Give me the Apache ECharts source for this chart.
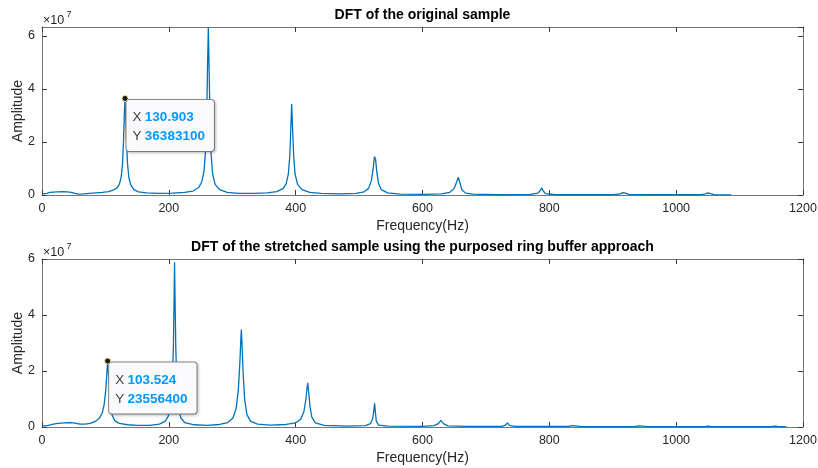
<!DOCTYPE html>
<html><head><meta charset="utf-8">
<script src="https://cdn.jsdelivr.net/npm/echarts@6/dist/echarts.min.js"></script>
<style>html,body{margin:0;padding:0;background:#fff}#c{width:818px;height:468px}</style>
</head><body><div id="c"></div>
<script>
// amplitudes in units of 1e7 (axis shows x10^7)
const SCALE = 1e7;
const xTickValues = [0, 200, 400, 600, 800, 1000, 1200];
const yTickValues = [0, 2, 4, 6];
const titleTop = 'DFT of the original sample';
const titleBottom = 'DFT of the stretched sample using the purposed ring buffer approach';
const xName = 'Frequency(Hz)';
const yName = 'Amplitude';

const originalSpectrum = [
[0,0.04],[3,0.03],[8,0.06],[12,0.1],[18,0.11],[25,0.12],[32,0.13],[40,0.12],[46,0.1],[52,0.06],[58,0.03],[65,0.04],[75,0.06],[85,0.08],[95,0.1],[105,0.13],[112,0.18],[118,0.26],[122,0.4],[125,0.7],[127,1.2],[128.5,2.0],[129.8,3.0],[130.903,3.63831],[132,3.0],[133.3,2.0],[134.8,1.2],[137,0.65],[140,0.38],[145,0.2],[152,0.12],[165,0.08],[185,0.06],[205,0.07],[225,0.1],[238,0.15],[247,0.28],[252,0.5],[255.5,0.9],[258,1.7],[259.8,3.0],[261,4.8],[262.3,6.33],[263.5,4.8],[264.8,3.0],[266.5,1.6],[269,0.8],[273,0.4],[280,0.2],[292,0.1],[310,0.06],[335,0.06],[355,0.08],[370,0.13],[380,0.24],[385,0.42],[388.5,0.8],[390.8,1.5],[392.5,2.6],[393.7,3.43],[395,2.6],[396.8,1.5],[399,0.8],[403,0.4],[410,0.2],[422,0.1],[440,0.06],[470,0.04],[495,0.06],[508,0.12],[515,0.25],[519.5,0.55],[522.5,1.05],[524.2,1.45],[525,1.5],[526,1.35],[527.8,0.9],[530.5,0.45],[535,0.2],[545,0.08],[565,0.03],[600,0.02],[630,0.04],[643,0.1],[650,0.25],[654,0.5],[656.5,0.67],[658.5,0.5],[662,0.2],[668,0.07],[680,0.03],[720,0.01],[770,0.02],[782,0.07],[786,0.18],[788,0.27],[790,0.16],[794,0.05],[810,0.01],[900,0.01],[912,0.04],[916,0.09],[918,0.12],[920,0.07],[925,0.02],[950,0.01],[1040,0.01],[1046,0.04],[1050,0.08],[1053,0.04],[1060,0.01],[1087,0.005]
];

const stretchedSpectrum = [
[0,0.05],[5,0.04],[10,0.06],[18,0.1],[25,0.13],[35,0.15],[45,0.16],[52,0.14],[60,0.1],[68,0.1],[76,0.13],[84,0.2],[90,0.3],[95,0.5],[98,0.8],[100.5,1.3],[102.2,1.9],[103.524,2.35564],[104.8,1.9],[106.5,1.2],[108.5,0.7],[111,0.4],[115,0.22],[122,0.13],[135,0.08],[150,0.06],[170,0.06],[185,0.1],[194,0.2],[199,0.38],[203,0.8],[205.5,1.6],[207.3,3.0],[208.3,4.6],[209,5.88],[209.8,4.6],[211,2.8],[212.8,1.4],[215.5,0.65],[219,0.32],[225,0.16],[240,0.08],[260,0.06],[280,0.09],[293,0.16],[301,0.32],[306,0.65],[309.5,1.3],[312,2.3],[313.5,3.1],[314.3,3.48],[315.3,3.0],[317,2.0],[319.5,1.0],[323,0.45],[329,0.2],[340,0.1],[360,0.07],[385,0.09],[400,0.15],[408,0.28],[413,0.55],[416.2,1.0],[418,1.4],[419,1.58],[420.3,1.3],[422.5,0.75],[425.5,0.35],[431,0.15],[445,0.06],[480,0.03],[510,0.05],[518,0.12],[521.5,0.3],[523.3,0.6],[524.5,0.85],[525.6,0.55],[527.2,0.2],[531,0.07],[545,0.03],[600,0.02],[618,0.05],[625,0.12],[629,0.24],[633,0.12],[640,0.04],[670,0.02],[725,0.02],[731,0.07],[734,0.15],[737,0.06],[745,0.02],[830,0.02],[836,0.05],[839,0.1],[842,0.04],[850,0.01],[935,0.01],[941,0.04],[944,0.07],[947,0.03],[955,0.01],[1045,0.01],[1050,0.03],[1052,0.05],[1055,0.02],[1065,0.01],[1150,0.01],[1155,0.03],[1157,0.05],[1160,0.02],[1174,0.005]
];

const tipTop = { x: 130.903, y: 36383100 };
const tipBottom = { x: 103.524, y: 23556400 };
const yMaxTop = 6.33;
const yMaxBottom = 6;

const FONT = "'Liberation Sans', Arial, Helvetica, sans-serif";
const AXLINE = '#767676';
const AXTICK = '#3a3a3a';
const TXT = '#262626';
const LINE = '#0072BD';

function plainNum(v) { return String(v); }

function xAxes(grid) {
  return [
    { gridIndex: grid, type: 'value', position: 'bottom', min: xTickValues[0], max: xTickValues[xTickValues.length-1], interval: xTickValues[1]-xTickValues[0],
      axisLine: { show: true, onZero: false, lineStyle: { color: AXLINE, width: 1 } },
      axisTick: { show: true, inside: true, length: 5, lineStyle: { color: AXTICK } },
      axisLabel: { show: true, color: TXT, fontSize: 12.5, fontFamily: FONT, margin: 7, formatter: plainNum, hideOverlap: false },
      splitLine: { show: false },
      name: xName, nameLocation: 'middle', nameGap: 24, nameMoveOverlap: false,
      nameTextStyle: { color: TXT, fontSize: 14, fontFamily: FONT } },
    { gridIndex: grid, type: 'value', position: 'top', min: xTickValues[0], max: xTickValues[xTickValues.length-1], interval: xTickValues[1]-xTickValues[0],
      axisLine: { show: true, onZero: false, lineStyle: { color: AXLINE, width: 1 } },
      axisTick: { show: true, inside: true, length: 5, lineStyle: { color: AXTICK } },
      axisLabel: { show: false }, splitLine: { show: false } }
  ];
}
function yAxes(grid, ymax, showMax) {
  return [
    { gridIndex: grid, type: 'value', position: 'left', min: yTickValues[0], max: ymax, interval: yTickValues[1]-yTickValues[0],
      axisLine: { show: true, onZero: false, lineStyle: { color: AXLINE, width: 1 } },
      axisTick: { show: true, inside: true, length: 5, lineStyle: { color: AXTICK } },
      axisLabel: { show: true, color: TXT, fontSize: 12.5, fontFamily: FONT, margin: 7, showMaxLabel: showMax, formatter: plainNum },
      splitLine: { show: false },
      name: yName, nameLocation: 'middle', nameGap: 17, nameRotate: 90, nameMoveOverlap: false,
      nameTextStyle: { color: TXT, fontSize: 14, fontFamily: FONT } },
    { gridIndex: grid, type: 'value', position: 'right', min: yTickValues[0], max: ymax, interval: yTickValues[1]-yTickValues[0],
      axisLine: { show: true, onZero: false, lineStyle: { color: AXLINE, width: 1 } },
      axisTick: { show: true, inside: true, length: 5, lineStyle: { color: AXTICK } },
      axisLabel: { show: false }, splitLine: { show: false } }
  ];
}

function tipSeries(tip, xi, yi) {
  return {
    type: 'scatter', xAxisIndex: xi, yAxisIndex: yi, z: 10,
    data: [[tip.x, tip.y / SCALE]],
    symbol: 'circle', symbolSize: 6,
    itemStyle: { color: '#1a1a1a', borderColor: '#efe08a', borderWidth: 1, opacity: 1 },
    label: {
      show: true, position: [5, 5],
      formatter: '{k|X} {v|' + tip.x + '}\n{k|Y} {v|' + tip.y + '}',
      backgroundColor: '#fafafd', borderColor: '#8c8c8c', borderWidth: 1, borderRadius: 3,
      padding: [8, 9, 5, 6],
      shadowColor: 'rgba(0,0,0,0.22)', shadowBlur: 3, shadowOffsetX: 1, shadowOffsetY: 1,
      rich: {
        k: { color: '#404040', fontSize: 13.5, lineHeight: 19, fontFamily: FONT },
        v: { color: '#0099ff', fontSize: 13.5, lineHeight: 19, fontWeight: 'bold', fontFamily: FONT }
      }
    },
    emphasis: { disabled: true }, silent: true
  };
}

const chart = echarts.init(document.getElementById('c'), null, { renderer: 'canvas' });
chart.setOption({
  animation: false,
  backgroundColor: '#ffffff',
  grid: [
    { left: 42, right: 15, top: 27, height: 168, containLabel: false, outerBoundsMode: 'none' },
    { left: 42, right: 15, top: 259, height: 168, containLabel: false, outerBoundsMode: 'none' }
  ],
  xAxis: xAxes(0).concat(xAxes(1)),
  yAxis: yAxes(0, yMaxTop, false).concat(yAxes(1, yMaxBottom, true)),
  graphic: [
    { type: 'text', x: 422.5, y: 15.5, style: { text: titleTop, font: 'bold 14px ' + FONT, fill: '#000', textAlign: 'center', textVerticalAlign: 'middle' } },
    { type: 'text', x: 422.5, y: 247.5, style: { text: titleBottom, font: 'bold 14px ' + FONT, fill: '#000', textAlign: 'center', textVerticalAlign: 'middle' } },
    { type: 'text', x: 43, y: 20.5, style: { text: '\u00d710', font: '12.5px ' + FONT, fill: TXT, textAlign: 'left', textVerticalAlign: 'middle' } },
    { type: 'text', x: 66.5, y: 15, style: { text: '7', font: '9px ' + FONT, fill: TXT, textAlign: 'left', textVerticalAlign: 'middle' } },
    { type: 'text', x: 43, y: 252.5, style: { text: '\u00d710', font: '12.5px ' + FONT, fill: TXT, textAlign: 'left', textVerticalAlign: 'middle' } },
    { type: 'text', x: 66.5, y: 247, style: { text: '7', font: '9px ' + FONT, fill: TXT, textAlign: 'left', textVerticalAlign: 'middle' } }
  ],
  series: [
    { type: 'line', xAxisIndex: 0, yAxisIndex: 0, data: originalSpectrum, showSymbol: false, symbol: 'none',
      lineStyle: { color: LINE, width: 1.3 }, itemStyle: { color: LINE }, silent: true, clip: true },
    tipSeries(tipTop, 0, 0),
    { type: 'line', xAxisIndex: 2, yAxisIndex: 2, data: stretchedSpectrum, showSymbol: false, symbol: 'none',
      lineStyle: { color: LINE, width: 1.3 }, itemStyle: { color: LINE }, silent: true, clip: true },
    tipSeries(tipBottom, 2, 2)
  ]
});
</script>
</body></html>
